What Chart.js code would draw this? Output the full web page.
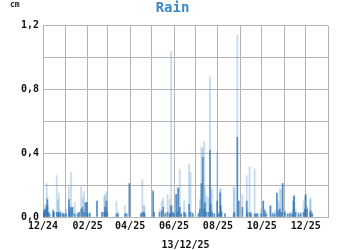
<!DOCTYPE html>
<html>
<head>
<meta charset="utf-8">
<script src="https://cdn.jsdelivr.net/npm/chart.js@4"></script>
<style>
  html, body { margin: 0; padding: 0; background: #fff; }
  #wrap { width: 350px; height: 250px; }
</style>
</head>
<body>
<div id="wrap"><canvas id="rain"></canvas></div>
<script>
// day index counted from 01/12/24
const days = [1,2,3,5,6,7,9,14,15,19,21,22,24,27,29,32,36,37,39,41,44,48,50,53,55,57,59,61,62,65,
  75,82,85,86,88,89,102,104,114,116,120,136,138,140,141,153,154,162,165,167,170,173,176,177,178,
  180,182,185,187,188,190,192,196,198,203,205,208,216,218,220,222,224,225,227,230,232,233,235,238,
  242,244,246,247,248,253,265,266,270,272,277,283,284,287,289,294,296,298,303,306,308,310,316,319,
  322,325,327,329,331,333,336,340,343,346,348,349,351,355,358,362,364,365,367,371,372,374];
const peakRain = [0.05,0.04,0.08,0.21,0.12,0.07,0.03,0.05,0.03,0.26,0.11,0.15,0.04,0.03,0.02,0.05,0.19,0.08,0.28,0.06,0.09,0.02,0.03,0.19,0.12,0.16,0.09,0.09,0.03,0.03,
  0.10,0.03,0.13,0.14,0.16,0.05,0.10,0.03,0.07,0.02,0.21,0.02,0.235,0.07,0.07,0.17,0.03,0.05,0.10,0.12,0.03,0.14,0.11,0.07,1.04,
  0.07,0.03,0.14,0.19,0.18,0.30,0.02,0.10,0.03,0.335,0.28,0.03,0.03,0.11,0.44,0.43,0.475,0.19,0.13,0.12,0.88,0.19,0.17,0.02,
  0.41,0.03,0.17,0.18,0.04,0.02,0.19,0.18,1.14,0.10,0.14,0.26,0.05,0.315,0.03,0.30,0.02,0.02,0.05,0.10,0.05,0.03,0.07,0.03,
  0.04,0.15,0.10,0.18,0.17,0.21,0.04,0.02,0.03,0.04,0.13,0.14,0.05,0.03,0.03,0.10,0.13,0.14,0.07,0.11,0.12,0.03];
const dailyRain = [0.03,0.04,0.05,0.07,0.11,0.03,0.02,0.04,0.03,0.03,0.03,0.02,0.03,0.02,0.02,0.02,0.11,0.05,0.06,0.06,0.02,0.02,0.03,0.05,0.06,0.03,0.09,0.09,0.02,0.02,
  0.10,0.03,0.03,0.06,0.10,0.03,0.02,0.02,0.02,0.02,0.21,0.02,0.03,0.03,0.02,0.16,0.03,0.03,0.04,0.06,0.02,0.03,0.02,0.02,0.07,
  0.03,0.02,0.14,0.03,0.18,0.06,0.02,0.03,0.02,0.08,0.03,0.02,0.02,0.05,0.21,0.375,0.05,0.09,0.03,0.03,0.42,0.08,0.03,0.02,
  0.10,0.02,0.15,0.07,0.03,0.02,0.02,0.03,0.50,0.10,0.06,0.10,0.02,0.03,0.02,0.02,0.02,0.02,0.02,0.10,0.04,0.02,0.07,0.02,
  0.02,0.15,0.04,0.05,0.03,0.21,0.03,0.02,0.02,0.02,0.10,0.13,0.03,0.02,0.02,0.03,0.05,0.14,0.05,0.03,0.04,0.02];

// month starts (days from 01/12/24) and their labels
const monthTicks = [0,31,62,90,121,151,182,212,243,274,304,335,365,396];
const monthLabels = ['12/24','','02/25','','04/25','','06/25','','08/25','','10/25','','12/25',''];
const yLabels = ['0,0','','0,4','','0,8','','1,2'];

const mono = 'DejaVu Sans Mono';

const unitLabel = {
  id: 'unitLabel',
  afterDraw(chart) {
    const c = chart.ctx;
    c.save();
    c.font = 'bold 8px ' + mono;
    c.fillStyle = '#222';
    c.textBaseline = 'middle';
    c.fillText('cm', 10, 5);
    c.restore();
  }
};

new Chart(document.getElementById('rain'), {
  type: 'bar',
  data: {
    datasets: [
      {
        label: 'daily',
        data: days.map((d, i) => ({ x: d, y: dailyRain[i] })),
        backgroundColor: 'rgba(40,110,175,0.7)',
        barThickness: 1,
      },
      {
        label: 'peak',
        data: days.map((d, i) => ({ x: d, y: peakRain[i] })),
        backgroundColor: 'rgba(80,145,205,0.32)',
        barThickness: 1.2,
      },
    ],
  },
  options: {
    responsive: true,
    maintainAspectRatio: false,
    animation: false,
    grouped: false,
    layout: { padding: { left: 17, right: 22, top: 0, bottom: 0 } },
    plugins: {
      legend: { display: false },
      tooltip: { enabled: false },
      title: {
        display: true,
        text: 'Rain',
        color: '#3f88c2',
        font: { family: mono, size: 14, weight: 'bold' },
        padding: { top: 0, bottom: 9 },
      },
    },
    scales: {
      x: {
        type: 'linear',
        min: 0,
        max: 396,
        offset: false,
        afterBuildTicks: (axis) => { axis.ticks = monthTicks.map(v => ({ value: v })); },
        grid: { color: '#b4b4b4', offset: false, drawTicks: false },
        border: { color: '#b4b4b4' },
        ticks: {
          autoSkip: false,
          maxRotation: 0,
          padding: 3,
          color: '#111',
          font: { family: mono, size: 10, weight: 'bold' },
          callback: (v, i) => monthLabels[i],
        },
        title: {
          display: true,
          text: '13/12/25',
          color: '#111',
          font: { family: mono, size: 10, weight: 'bold', lineHeight: 1 },
          padding: { top: 5, bottom: 0 },
        },
      },
      y: {
        min: 0,
        max: 1.2,
        grid: { color: '#b4b4b4', drawTicks: false },
        border: { color: '#b4b4b4' },
        ticks: {
          stepSize: 0.2,
          padding: 4,
          color: '#111',
          font: { family: mono, size: 10, weight: 'bold' },
          callback: (v, i) => yLabels[i],
        },
      },
    },
  },
  plugins: [unitLabel],
});
</script>
</body>
</html>
